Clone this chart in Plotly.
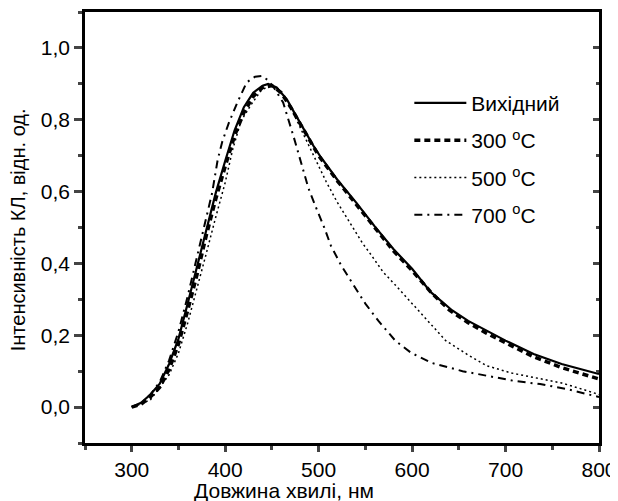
import plotly.graph_objects as go

# Вихідний
wl_0 = [300, 310, 320, 330, 340, 350, 360, 370, 380, 390, 400, 410, 420, 430, 440, 446, 455, 466, 475, 484,
        495, 502, 520, 540, 560, 580, 600, 620, 643, 660, 680, 700, 730, 760, 800]
kl_0 = [0.0, 0.012, 0.035, 0.065, 0.12, 0.19, 0.29, 0.39, 0.49, 0.597, 0.685, 0.77, 0.835, 0.875, 0.895, 0.90,
        0.89, 0.857, 0.815, 0.773, 0.725, 0.697, 0.633, 0.57, 0.503, 0.44, 0.385, 0.32, 0.269, 0.24, 0.213,
        0.185, 0.148, 0.12, 0.092]

# 300 C
wl_300 = [300, 310, 320, 330, 340, 350, 360, 370, 380, 390, 400, 410, 420, 430, 440, 450, 460, 470, 480, 490,
          500, 520, 540, 560, 580, 600, 620, 640, 660, 680, 700, 730, 760, 800]
kl_300 = [0.0, 0.008, 0.028, 0.055, 0.105, 0.175, 0.27, 0.37, 0.48, 0.58, 0.67, 0.755, 0.82, 0.865, 0.89, 0.895,
          0.875, 0.835, 0.79, 0.745, 0.70, 0.63, 0.565, 0.50, 0.435, 0.38, 0.32, 0.27, 0.235, 0.205, 0.18, 0.14,
          0.11, 0.078]

# 500 C
wl_500 = [300, 320, 340, 350, 360, 370, 380, 390, 400, 408, 417, 428, 438, 448, 458, 468, 480, 495, 508, 520,
          536, 547, 555, 569, 582, 594, 604, 620, 636, 660, 680, 706, 735, 760, 782, 800]
kl_500 = [0.0, 0.02, 0.09, 0.15, 0.235, 0.33, 0.43, 0.53, 0.625, 0.717, 0.797, 0.843, 0.88, 0.897, 0.885, 0.845,
          0.78, 0.698, 0.628, 0.57, 0.502, 0.456, 0.428, 0.376, 0.34, 0.306, 0.278, 0.232, 0.185, 0.145, 0.115,
          0.095, 0.081, 0.067, 0.05, 0.035]

# 700 C
wl_700 = [300, 310, 320, 330, 340, 350, 360, 370, 379, 386, 392, 397, 404, 413, 423, 432, 439, 446, 452, 462,
          473, 482, 489, 497, 506, 513, 524, 539, 550, 564, 582, 599, 621, 654, 680, 709, 737, 766, 800]
kl_700 = [0.0, 0.01, 0.035, 0.07, 0.13, 0.21, 0.31, 0.42, 0.521, 0.596, 0.689, 0.74, 0.792, 0.848, 0.904, 0.92,
          0.922, 0.91, 0.89, 0.848, 0.755, 0.67, 0.61, 0.557, 0.50, 0.45, 0.395, 0.333, 0.288, 0.24, 0.185, 0.151,
          0.123, 0.10, 0.087, 0.073, 0.064, 0.05, 0.028]

names = ['Вихідний', '300 <sup>o</sup>C', '500 <sup>o</sup>C', '700 <sup>o</sup>C']
FONT = 'Liberation Sans, Arial, sans-serif'

fig = go.Figure()
series = [(wl_0, kl_0, dict(color='black', width=2.2), 'y2'),
          (wl_300, kl_300, dict(color='black', width=3.5, dash='6px,4px'), 'y'),
          (wl_500, kl_500, dict(color='black', width=1.5, dash='2px,3px'), 'y'),
          (wl_700, kl_700, dict(color='black', width=2, dash='8px,5px,2px,5px'), 'y')]
for i, (x, y, ln, ax) in enumerate(series):
    fig.add_trace(go.Scatter(x=x, y=y, mode='lines', line=ln, name=names[i], legendgroup=str(i), yaxis=ax))

# page body has an 8px margin, margins below make up for it
fig.update_layout(
    width=618, height=501, margin=dict(l=77, r=27, t=4, b=66, autoexpand=False),
    plot_bgcolor='white', paper_bgcolor='white',
    font=dict(family=FONT, size=21, color='black'),
    separators=', ',
    showlegend=True,
    legend=dict(x=0.631, y=0.836, xanchor='left', yanchor='top', bgcolor='rgba(0,0,0,0)',
                tracegroupgap=7, itemwidth=52, font=dict(size=21)),
)
fig.update_xaxes(range=[250, 800], tick0=0, dtick=100, showline=True, linewidth=2.5, linecolor='black',
                 mirror=True, ticks='outside', ticklen=6, tickwidth=2.5, showgrid=False, zeroline=False,
                 automargin=False, minor=dict(dtick=50, ticks='outside', ticklen=4, tickwidth=2.5))
fig.update_layout(
    yaxis=dict(range=[-0.1, 1.1], tick0=0, dtick=0.2, tickformat='.1f', showline=True, linewidth=2.5,
               linecolor='black', mirror=True, ticks='outside', ticklen=8, tickwidth=2.5, showgrid=False,
               zeroline=False, automargin=False, minor=dict(dtick=0.1, ticks='outside', ticklen=4, tickwidth=2.5)),
    yaxis2=dict(overlaying='y', side='right', range=[-0.1, 1.1], tick0=0, dtick=0.2, showticklabels=False,
                ticks='inside', ticklen=6, tickwidth=2.5, showgrid=False, zeroline=False, automargin=False,
                minor=dict(dtick=0.1, ticks='inside', ticklen=3, tickwidth=2.5)),
)

fig.add_annotation(text='Довжина хвилі, нм', xref='paper', yref='paper', x=0.387, y=-0.11,
                   xanchor='center', yanchor='middle', showarrow=False, font=dict(size=21))
fig.add_annotation(text='Інтенсивність КЛ, відн. од.', xref='paper', yref='paper', x=-0.13, y=0.494,
                   xanchor='center', yanchor='middle', textangle=-90, showarrow=False, font=dict(size=20))

fig.write_html("out.html")
